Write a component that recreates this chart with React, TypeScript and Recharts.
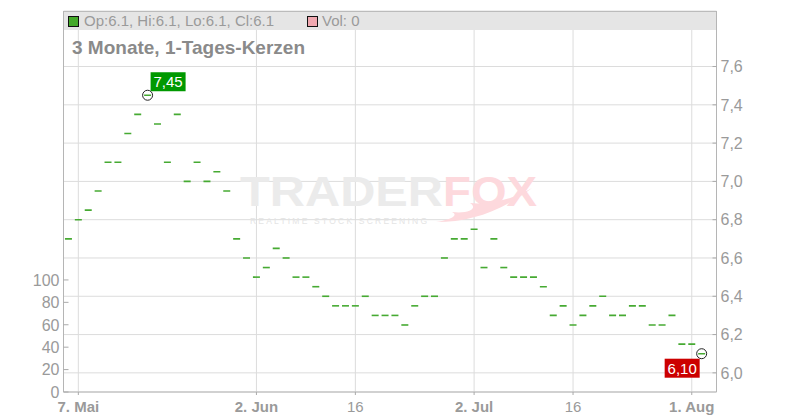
import React from "react";
import { ComposedChart, Scatter, XAxis, YAxis, CartesianGrid, Customized } from "recharts";

// daily prices (open = high = low = close), 6. Mai – 4. Aug
const prices = [
  6.7, 6.8, 6.85, 6.95, 7.1, 7.1, 7.25, 7.35, 7.45, 7.3,
  7.1, 7.35, 7.0, 7.1, 7.0, 7.05, 6.95, 6.7, 6.6, 6.5,
  6.55, 6.65, 6.6, 6.5, 6.5, 6.45, 6.4, 6.35, 6.35, 6.35,
  6.4, 6.3, 6.3, 6.3, 6.25, 6.35, 6.4, 6.4, 6.6, 6.7,
  6.7, 6.75, 6.55, 6.7, 6.55, 6.5, 6.5, 6.5, 6.45, 6.3,
  6.35, 6.25, 6.3, 6.35, 6.4, 6.3, 6.3, 6.35, 6.35, 6.25,
  6.25, 6.3, 6.15, 6.15, 6.1
];

const xTicks = [1, 19, 29, 41, 51, 63];
const xTickLabels = ["7. Mai", "2. Jun", "16", "2. Jul", "16", "1. Aug"];
const priceTicks = [6.0, 6.2, 6.4, 6.6, 6.8, 7.0, 7.2, 7.4, 7.6];
const volTicks = [0, 20, 40, 60, 80, 100];

const data = prices.map((p, i) => ({ i, p }));
const maxIdx = prices.indexOf(Math.max(...prices));
const lastIdx = prices.length - 1;

const FONT = "'Liberation Sans', Arial, sans-serif";
const GREEN = "#46aa32";
const fmt = (v: number) => v.toFixed(1).replace(".", ",");
const fmt2 = (v: number) => v.toFixed(2).replace(".", ",");

const Backdrop = () => (
  <g>
    <rect x={63.5} y={11} width={652.5} height={19} fill="#e5e5e5" />
    <line x1={63.5} x2={716.5} y1={11.5} y2={11.5} stroke="#bbb" />
    <text x={240} y={206} fontFamily={FONT} fontWeight="bold" fontSize={43} fill="#ebebeb" textLength={203} lengthAdjust="spacingAndGlyphs">TRADER</text>
    <text x={443} y={206} fontFamily={FONT} fontWeight="bold" fontSize={43} fill="#fdd9dd" textLength={94} lengthAdjust="spacingAndGlyphs">FOX</text>
    <path d="M436 222 C 470 222, 500 212, 532 188 C 512 200, 488 205, 470 203 C 478 208, 470 214, 452 212 C 460 216, 448 220, 436 222 Z" fill="#fdd9dd" />
    <text x={250} y={224} fontFamily={FONT} fontSize={8.5} fill="#e4e4e4" textLength={177} lengthAdjust="spacing">REALTIME STOCK SCREENING</text>
  </g>
);

const Header = () => (
  <g fontFamily={FONT}>
    <rect x={68.5} y={16.5} width={10} height={10} fill="#44aa2a" stroke="#111" />
    <text x={84} y={26} fontSize={15} fill="#9a9a9a">Op:6.1, Hi:6.1, Lo:6.1, Cl:6.1</text>
    <rect x={307.5} y={16.5} width={10} height={10} fill="#f0a8b0" stroke="#111" />
    <text x={322} y={26} fontSize={15} fill="#9a9a9a">Vol: 0</text>
    <text x={72} y={54} fontSize={19} fontWeight="bold" fill="#8a8a8a">3 Monate, 1-Tages-Kerzen</text>
  </g>
);

const renderDash = (props: any) => {
  const { cx, cy, payload } = props;
  const idx = payload.i;
  return (
    <g>
      <line x1={cx - 3.5} x2={cx + 3.5} y1={cy} y2={cy} stroke={GREEN} strokeWidth={1.6} />
      {idx === maxIdx && (
        <g>
          <circle cx={cx} cy={cy} r={5} fill="none" stroke="#222" strokeWidth={1} />
          <rect x={cx + 3} y={cy - 23} width={35} height={19} fill="#009900" />
          <text x={cx + 20.5} y={cy - 8.5} textAnchor="middle" fontFamily={FONT} fontSize={15} fill="#fff">{fmt2(payload.p)}</text>
        </g>
      )}
      {idx === lastIdx && (
        <g>
          <circle cx={cx} cy={cy} r={5} fill="none" stroke="#222" strokeWidth={1} />
          <rect x={cx - 37} y={cy + 5} width={35} height={19} fill="#cc0000" />
          <text x={cx - 19.5} y={cy + 20} textAnchor="middle" fontFamily={FONT} fontSize={15} fill="#fff">{fmt2(payload.p)}</text>
        </g>
      )}
    </g>
  );
};

const PriceTick = (props: any) => {
  const { x, y, payload } = props;
  return (
    <g>
      <line x1={x - 4} x2={x} y1={y} y2={y} stroke="#aaa" />
      <text x={x + 4} y={y} dy="0.36em" fontFamily={FONT} fontSize={16} fill="#9a9a9a">{fmt(payload.value)}</text>
    </g>
  );
};

const VolTick = (props: any) => {
  const { x, y, payload } = props;
  return (
    <g>
      <line x1={x} x2={x + 5} y1={y} y2={y} stroke="#aaa" />
      <text x={x - 4} y={y} dy="0.36em" textAnchor="end" fontFamily={FONT} fontSize={16} fill="#9a9a9a">{payload.value}</text>
    </g>
  );
};

const DateTick = (props: any) => {
  const { x, y, index } = props;
  const label = xTickLabels[index] ?? "";
  return (
    <g>
      <line x1={x} x2={x} y1={y} y2={y + 3} stroke="#aaa" />
      <text x={x} y={y + 20} textAnchor="middle" fontFamily={FONT} fontSize={15} fontWeight={label.includes(". ") ? "bold" : "normal"} fill="#9a9a9a">{label}</text>
    </g>
  );
};

export default function App() {
  return (
    <div style={{ position: "absolute", left: 0, top: 0, width: 800, height: 420, background: "#fff" }}>
      <ComposedChart width={800} height={420} data={data} margin={{ top: 11, right: 0, bottom: 0, left: 0 }}>
        <Customized component={Backdrop} />
        <CartesianGrid yAxisId="price" stroke="#dcdcdc" />
        <XAxis
          dataKey="i"
          type="number"
          domain={[-0.5, 65.5]}
          ticks={xTicks}
          allowDataOverflow
          height={28}
          tickLine={false}
          tickSize={0}
          tickMargin={0}
          axisLine={{ stroke: "#b5b5b5" }}
          tick={<DateTick />}
          interval={0}
        />
        <YAxis
          yAxisId="vol"
          orientation="left"
          width={63.5}
          domain={[0, 340]}
          ticks={volTicks}
          allowDataOverflow
          tickLine={false}
          tickSize={0}
          tickMargin={0}
          axisLine={{ stroke: "#b5b5b5" }}
          tick={<VolTick />}
          interval={0}
        />
        <YAxis
          yAxisId="price"
          orientation="right"
          width={83.5}
          domain={[5.9, 7.89]}
          ticks={priceTicks}
          allowDataOverflow
          tickLine={false}
          tickSize={0}
          tickMargin={0}
          axisLine={{ stroke: "#b5b5b5" }}
          tick={<PriceTick />}
          interval={0}
        />
        <Customized component={Header} />
        <Scatter yAxisId="price" dataKey="p" shape={renderDash} isAnimationActive={false} />
      </ComposedChart>
    </div>
  );
}
